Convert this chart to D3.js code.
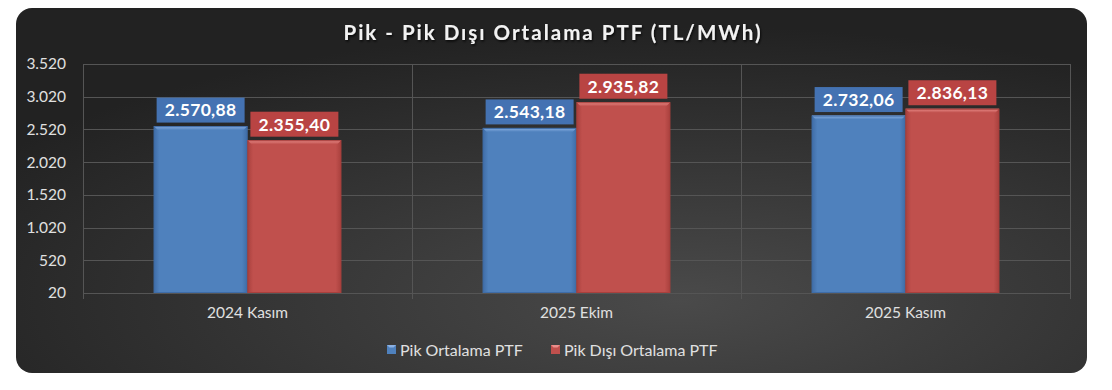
<!DOCTYPE html>
<html>
<head>
<meta charset="utf-8">
<script src="https://cdn.jsdelivr.net/npm/d3@7"></script>
<style>
	html, body { margin: 0; padding: 0; background: #fff; }
	svg { display: block; font-family: Lato, "Open Sans", sans-serif; }
</style>
</head>
<body>
<svg id="chart" width="1112" height="390"></svg>
<script>
const categories = ["2024 Kasım", "2025 Ekim", "2025 Kasım"]
const seriesNames = ["Pik Ortalama PTF", "Pik Dışı Ortalama PTF"]
const pikValues = [2570.88, 2543.18, 2732.06]
const pikDisiValues = [2355.40, 2935.82, 2836.13]
const yTicks = [20, 520, 1020, 1520, 2020, 2520, 3020, 3520]
const title = "Pik - Pik Dışı Ortalama PTF (TL/MWh)"

const colors = [
	{ base: "#4f81bd", dark: "#3f6ca6", light: "#8cb1e3", box: "#4472b2" },
	{ base: "#c0504d", dark: "#a8403d", light: "#ea8e8b", box: "#b94443" },
]

const W = 1112, H = 390
const card = { x: 16, y: 8, w: 1071, h: 365, r: 16 }
const margin = { top: 64, right: 42, bottom: 97, left: 83 }
const plotW = W - margin.left - margin.right
const plotH = H - margin.top - margin.bottom

const svg = d3.select("#chart")
const defs = svg.append("defs")

const bg = defs.append("radialGradient").attr("id", "bg")
	.attr("cx", "62%").attr("cy", "80%").attr("r", "75%")
bg.append("stop").attr("offset", "0%").attr("stop-color", "#4a4a4a")
bg.append("stop").attr("offset", "100%").attr("stop-color", "#222")

colors.forEach((c, i) => {
	const g = defs.append("linearGradient").attr("id", "bar" + i)
		.attr("x1", "0").attr("x2", "1").attr("y1", "0").attr("y2", "0")
	g.append("stop").attr("offset", "0%").attr("stop-color", c.dark)
	g.append("stop").attr("offset", "6%").attr("stop-color", c.base)
	g.append("stop").attr("offset", "94%").attr("stop-color", c.base)
	g.append("stop").attr("offset", "100%").attr("stop-color", c.dark)
	const b = defs.append("linearGradient").attr("id", "bevel" + i)
		.attr("x1", "0").attr("x2", "0").attr("y1", "0").attr("y2", "1")
	b.append("stop").attr("offset", "0%").attr("stop-color", c.light)
	b.append("stop").attr("offset", "100%").attr("stop-color", c.base)
})

const shadow = defs.append("filter").attr("id", "tshadow")
shadow.append("feDropShadow").attr("dx", 1).attr("dy", 1.5)
	.attr("stdDeviation", 1).attr("flood-color", "#000").attr("flood-opacity", 0.8)

svg.append("rect")
	.attr("x", card.x).attr("y", card.y).attr("width", card.w).attr("height", card.h)
	.attr("rx", card.r).attr("fill", "url(#bg)")

svg.append("text")
	.attr("x", 553).attr("y", 40)
	.attr("text-anchor", "middle")
	.attr("fill", "#f2f2f2")
	.attr("font-size", 20.5).attr("font-weight", "bold")
	.attr("letter-spacing", 2)
	.attr("filter", "url(#tshadow)")
	.text(title)

const plot = svg.append("g").attr("transform", `translate(${margin.left},${margin.top})`)

const x = d3.scaleBand().domain(categories).range([0, plotW])
const xs = d3.scaleBand().domain([0, 1]).range([0, x.bandwidth() * 0.57])
const y = d3.scaleLinear().domain([20, 3520]).range([plotH, 0])

// gridlines
plot.append("g").selectAll("line").data(yTicks).join("line")
	.attr("x1", 0).attr("x2", plotW)
	.attr("y1", d => Math.round(y(d)) + 0.5).attr("y2", d => Math.round(y(d)) + 0.5)
	.attr("stroke", "#555").attr("stroke-width", 1)
const vlines = [0].concat(categories.map(c => x(c) + x.bandwidth()))
plot.append("g").selectAll("line").data(vlines).join("line")
	.attr("x1", d => Math.round(d) + 0.5).attr("x2", d => Math.round(d) + 0.5)
	.attr("y1", 0).attr("y2", plotH + 6)
	.attr("stroke", "#555").attr("stroke-width", 1)

// y axis labels
const yAxis = plot.append("g")
	.call(d3.axisLeft(y).tickValues(yTicks).tickSize(0).tickPadding(17)
		.tickFormat(d => d3.format(",")(d).replace(/,/g, ".")))
yAxis.select(".domain").remove()
yAxis.selectAll("text").attr("fill", "#e0e0e0").attr("font-size", 15.5)
	.attr("font-family", "Lato, 'Open Sans', sans-serif")

// x axis labels
const xAxis = plot.append("g").attr("transform", `translate(0,${plotH})`)
	.call(d3.axisBottom(x).tickSize(0).tickPadding(14))
xAxis.select(".domain").remove()
xAxis.selectAll("text").attr("fill", "#e0e0e0").attr("font-size", 15.5)
	.attr("font-family", "Lato, 'Open Sans', sans-serif")

const fmt = v => {
	const s = d3.format(",.2f")(v)
	return s.replace(/,/g, "#").replace(".", ",").replace(/#/g, ".")
}

const series = [pikValues, pikDisiValues]
series.forEach((vals, si) => {
	const c = colors[si]
	const g = plot.append("g")
	const data = categories.map((cat, i) => ({ cat, v: vals[i] }))
	const off = (x.bandwidth() - xs.range()[1]) / 2
	const bx = d => x(d.cat) + off + xs(si)
	const bw = xs.bandwidth()
	g.selectAll("rect.bar").data(data).join("rect").attr("class", "bar")
		.attr("x", bx).attr("width", bw)
		.attr("y", d => y(d.v)).attr("height", d => y(20) - y(d.v))
		.attr("fill", `url(#bar${si})`)
	g.selectAll("path.bevel").data(data).join("path").attr("class", "bevel")
		.attr("d", d => {
			const x0 = bx(d), y0 = y(d.v), b = 4
			return `M${x0},${y0}L${x0 + bw},${y0}L${x0 + bw - b},${y0 + b}L${x0 + b},${y0 + b}Z`
		})
		.attr("fill", `url(#bevel${si})`)
	g.selectAll("rect.edge").data(data).join("rect").attr("class", "edge")
		.attr("x", d => bx(d) + 0.5).attr("width", bw - 1)
		.attr("y", d => y(d.v) + 0.5).attr("height", d => y(20) - y(d.v) - 1)
		.attr("fill", "none").attr("stroke", c.dark).attr("stroke-width", 1)

	const lbl = g.selectAll("g.lbl").data(data).join("g").attr("class", "lbl")
		.attr("transform", d => `translate(${bx(d) + bw / 2},${y(d.v) - 16})`)
	lbl.append("rect")
		.attr("x", -44).attr("y", -12.5).attr("width", 88).attr("height", 25)
		.attr("fill", c.box)
	lbl.append("text")
		.attr("text-anchor", "middle").attr("dy", "0.36em")
		.attr("fill", "#fff").attr("font-size", 17.5).attr("font-weight", "bold")
		.attr("letter-spacing", 0.3)
		.text(d => fmt(d.v))
})

// legend
const legend = svg.append("g").attr("transform", "translate(0,350)")
const legendX = [387, 551]
seriesNames.forEach((name, i) => {
	const lg = legend.append("g").attr("transform", `translate(${legendX[i]},0)`)
	lg.append("rect").attr("x", 0).attr("y", -5).attr("width", 9).attr("height", 9)
		.attr("fill", colors[i].base)
	lg.append("path").attr("d", "M0,-5L9,-5L6.5,-2.5L2.5,-2.5Z").attr("fill", colors[i].light)
	lg.append("text").attr("x", 13).attr("dy", "0.35em")
		.attr("fill", "#e0e0e0").attr("font-size", 16)
		.text(name)
})
</script>
</body>
</html>
